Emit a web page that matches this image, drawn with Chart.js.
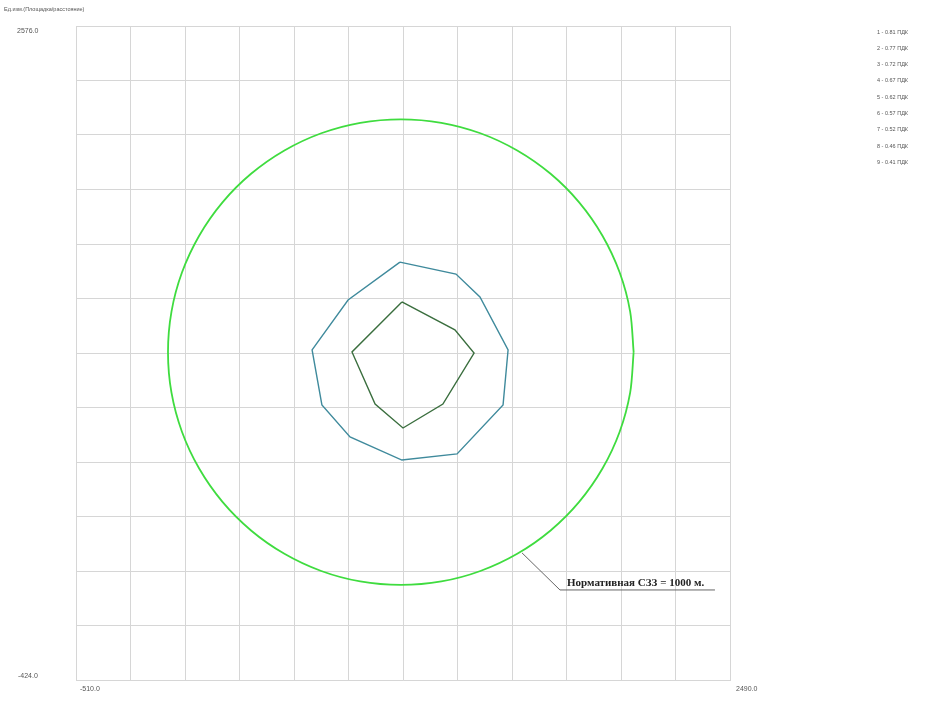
<!DOCTYPE html>
<html>
<head>
<meta charset="utf-8">
<script src="https://cdn.jsdelivr.net/npm/chart.js@4/dist/chart.umd.min.js"></script>
<style>
  html, body { margin: 0; padding: 0; background: #fff; }
  #wrap { width: 943px; height: 704px; }
</style>
</head>
<body>
<div id="wrap"><canvas id="szz"></canvas></div>
<script>
// axis limits and grid lines (metres)
const xMin = -510, xMax = 2490;
const yMin = -424, yMax = 2576;
const xGrid = [-510, -260, -10, 240, 490, 740, 990, 1240, 1490, 1740, 1990, 2240, 2490];
const yGrid = [-424, -174, 76, 326, 576, 826, 1076, 1326, 1576, 1826, 2076, 2326, 2576];

// normative sanitary zone boundary
const zoneX = [2048, 2032, 1984, 1905, 1798, 1667, 1514, 1345, 1166, 980, 794, 615, 446, 293, 162, 55, -24, -72,
               -88, -72, -24, 55, 162, 293, 446, 615, 794, 980, 1166, 1345, 1514, 1667, 1798, 1905, 1984, 2032, 2048];
const zoneY = [1080, 1266, 1445, 1614, 1767, 1898, 2005, 2084, 2132, 2148, 2132, 2084, 2005, 1898, 1767, 1614, 1445, 1266,
               1080, 894, 715, 546, 393, 262, 155, 76, 28, 12, 28, 76, 155, 262, 393, 546, 715, 894, 1080];

// isolines
const iso1X = [976, 1233, 1343, 1472, 1449, 1238, 985, 747, 618, 573, 738, 976];
const iso1Y = [1493, 1438, 1333, 1090, 838, 613, 585, 691, 838, 1090, 1319, 1493];
const iso2X = [985, 1228, 1316, 1173, 990, 862, 756, 985];
const iso2Y = [1310, 1182, 1076, 842, 732, 842, 1081, 1310];

// leader for the caption
const leaderX = [1536, 1710, 2421];
const leaderY = [159, -11, -11];
const caption = "Нормативная СЗЗ = 1000 м.";

const legendLabels = ["1 - 0.81 ПДК", "2 - 0.77 ПДК", "3 - 0.72 ПДК", "4 - 0.67 ПДК", "5 - 0.62 ПДК",
                      "6 - 0.57 ПДК", "7 - 0.52 ПДК", "8 - 0.46 ПДК", "9 - 0.41 ПДК"];
const topTitle = "Ед.изм.(Площадка/расстояние)";

const pts = (xs, ys) => xs.map((x, i) => ({ x: x, y: ys[i] }));

const textPlugin = {
    id: "texts",
    afterDraw(chart) {
        const ctx = chart.ctx;
        const xs = chart.scales.x, ys = chart.scales.y;
        ctx.save();
        ctx.fillStyle = "#555";
        ctx.textBaseline = "middle";
        ctx.textAlign = "left";
        ctx.font = "5.5px 'Liberation Sans'";
        ctx.fillText(topTitle, 4, 9);
        legendLabels.forEach((t, i) => ctx.fillText(t, 877, 32 + i * 16.3));
        ctx.font = "7px 'Liberation Sans'";
        ctx.fillText(yMax.toFixed(1), 17, ys.getPixelForValue(yMax) + 5);
        ctx.fillText(yMin.toFixed(1), 18, ys.getPixelForValue(yMin) - 4);
        ctx.fillText(xMin.toFixed(1), xs.getPixelForValue(xMin) + 4, ys.bottom + 9);
        ctx.fillText(xMax.toFixed(1), xs.getPixelForValue(xMax) + 6, ys.bottom + 9);
        // caption above the leader shelf
        ctx.fillStyle = "#222";
        ctx.font = "bold 11px 'Liberation Serif'";
        ctx.textBaseline = "alphabetic";
        ctx.fillText(caption, xs.getPixelForValue(leaderX[1]) + 7, ys.getPixelForValue(leaderY[1]) - 4);
        ctx.restore();
    }
};

new Chart(document.getElementById("szz"), {
    type: "scatter",
    data: {
        datasets: [{
            label: "СЗЗ",
            data: pts(zoneX, zoneY),
            showLine: true,
            borderColor: "#3fdc3f",
            borderWidth: 1.8,
            pointRadius: 0,
            tension: 0.3
        }, {
            label: "iso1",
            data: pts(iso1X, iso1Y),
            showLine: true,
            borderColor: "#3f8a9c",
            borderWidth: 1.4,
            pointRadius: 0
        }, {
            label: "iso2",
            data: pts(iso2X, iso2Y),
            showLine: true,
            borderColor: "#3a6e3e",
            borderWidth: 1.4,
            pointRadius: 0
        }, {
            label: "leader",
            data: pts(leaderX, leaderY),
            showLine: true,
            borderColor: "#666",
            borderWidth: 1,
            pointRadius: 0
        }]
    },
    options: {
        responsive: true,
        maintainAspectRatio: false,
        animation: false,
        layout: { padding: { left: 76, right: 213, top: 26, bottom: 24 } },
        plugins: { legend: { display: false }, tooltip: { enabled: false } },
        scales: {
            x: {
                type: "linear", min: xMin, max: xMax,
                afterBuildTicks: s => { s.ticks = xGrid.map(v => ({ value: v })); },
                ticks: { display: false },
                grid: { color: "#d6d6d6", drawTicks: false },
                border: { color: "#d6d6d6" }
            },
            y: {
                type: "linear", min: yMin, max: yMax,
                afterBuildTicks: s => { s.ticks = yGrid.map(v => ({ value: v })); },
                ticks: { display: false },
                grid: { color: "#d6d6d6", drawTicks: false },
                border: { color: "#d6d6d6" }
            }
        }
    },
    plugins: [textPlugin]
});
</script>
</body>
</html>
